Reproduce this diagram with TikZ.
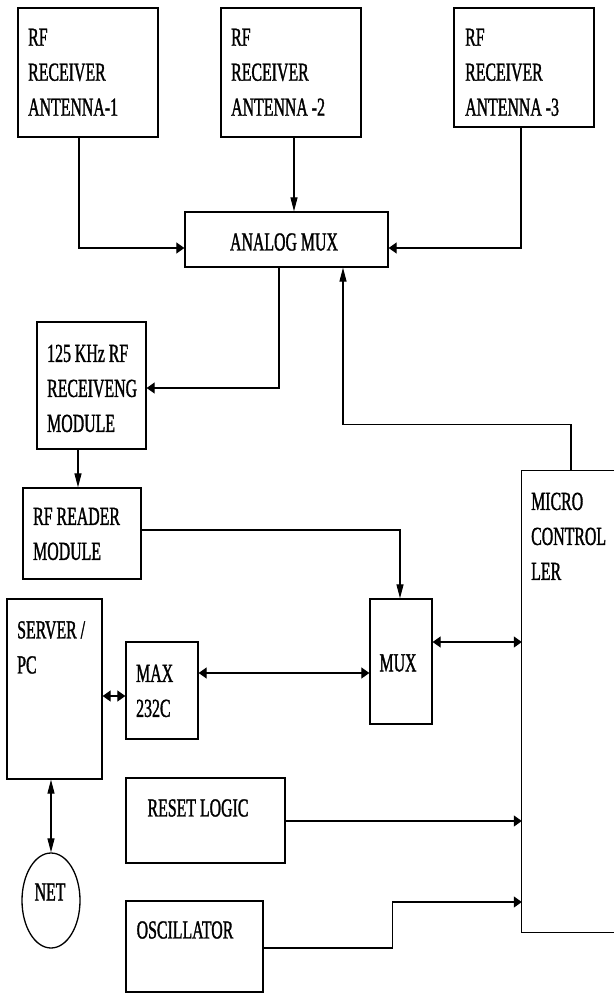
\documentclass[tikz,border=0pt]{standalone}
\usepackage{fontspec}
\setmainfont[FakeStretch=0.61,FakeBold=1.2]{Liberation Serif}
\usetikzlibrary{arrows.meta,shapes.geometric}
\newcommand\lblfont{\fontsize{26}{35}\selectfont}
\begin{document}
\begin{tikzpicture}[x=1pt,y=-1pt,
  box/.style={draw, line width=1.3pt, inner sep=0pt},
  txt/.style={inner sep=0pt, align=left, anchor=north west, font=\lblfont},
  ctxt/.style={inner sep=0pt, font=\lblfont},
  line/.style={line width=1.2pt},
  harr/.style={line, -{Triangle[length=8pt,width=11pt]}},
  varr/.style={line, -{Triangle[length=14pt,width=7pt]}},
  hbi/.style={line, {Triangle[length=8pt,width=11pt]}-{Triangle[length=8pt,width=11pt]}},
  vbi/.style={line, {Triangle[length=14pt,width=7pt]}-{Triangle[length=14pt,width=7pt]}}
]
\useasboundingbox (0,0) rectangle (614,993);
% boxes
\node[box, minimum width=140pt, minimum height=129pt] (a1) at (88,72.5) {};
\node[box, minimum width=140pt, minimum height=129pt] (a2) at (291,72.5) {};
\node[box, minimum width=140pt, minimum height=119pt] (a3) at (524,67.5) {};
\node[box, minimum width=203pt, minimum height=55pt] (amux) at (286.5,239.5) {};
\node[box, minimum width=109pt, minimum height=127pt] (rx) at (91.5,385.5) {};
\node[box, minimum width=118pt, minimum height=91pt] (rfr) at (82,533.5) {};
\node[box, minimum width=95pt, minimum height=180pt] (srv) at (54.5,689) {};
\node[box, minimum width=72pt, minimum height=97pt] (max) at (162,690.5) {};
\node[box, minimum width=62pt, minimum height=125pt] (mux) at (401,661.5) {};
\node[inner sep=0pt, minimum width=92pt, minimum height=461pt] (mcu) at (568,701.5) {};
\draw[line width=1.3pt] (mcu.north east) -- (mcu.north west) -- (mcu.south west) -- (mcu.south east);
\node[box, minimum width=159pt, minimum height=85pt] (rst) at (205.5,820.5) {};
\node[box, minimum width=137pt, minimum height=91pt] (osc) at (194.5,946.5) {};
\node[box, ellipse, minimum width=58pt, minimum height=95pt] (net) at (51,900.5) {};
% texts
\node[txt] (a1t) at (28,28.5) {RF\\RECEIVER\\ANTENNA-1};
\node[txt] (a2t) at (231,28.5) {RF\\RECEIVER\\ANTENNA -2};
\node[txt] (a3t) at (465,28.5) {RF\\RECEIVER\\ANTENNA -3};
\node[ctxt] (amuxt) at (284,242) {ANALOG MUX};
\node[txt] (rxt) at (47,344.5) {125 KHz RF\\RECEIVENG\\MODULE};
\node[txt] (rfrt) at (33,507.5) {RF READER\\MODULE};
\node[txt] (srvt) at (17,621) {SERVER /\\PC};
\node[txt] (maxt) at (136,664.5) {MAX\\232C};
\node[ctxt] (muxt) at (398,663) {MUX};
\node[txt] (mcut) at (531,492.5) {MICRO\\CONTROL\\LER};
\node[ctxt] (rstt) at (198,808) {RESET LOGIC};
\node[ctxt] (osct) at (185,930) {OSCILLATOR};
\node[ctxt] (nett) at (50,892) {NET};
% connectors
\draw[harr] (a1.south -| 79,0) |- (amux.west |- 0,248);
\draw[varr] (a2.south -| 294,0) -- (amux.north -| 294,0);
\draw[harr] (a3.south -| 521,0) |- (amux.east |- 0,248);
\draw[harr] (amux.south -| 279,0) |- (rx.east |- 0,388);
\draw[varr] (mcu.north -| 571,0) -- ++(0,-46) -| (amux.south -| 343,0);
\draw[varr] (rx.south -| 78,0) -- (rfr.north -| 78,0);
\draw[varr] (rfr.east |- 0,530) -| (mux.north -| 400,0);
\draw[hbi] (mux.east |- 0,642) -- (mcu.west |- 0,642);
\draw[hbi] (max.east |- 0,673) -- (mux.west |- 0,673);
\draw[hbi] (srv.east |- 0,696) -- (max.west |- 0,696);
\draw[vbi] (srv.south -| net.north) -- (net.north);
\draw[harr] (rst.east |- 0,821) -- (mcu.west |- 0,821);
\draw[harr] (osc.east |- 0,948) -- ++(129,0) |- (mcu.west |- 0,902);
\end{tikzpicture}
\end{document}
